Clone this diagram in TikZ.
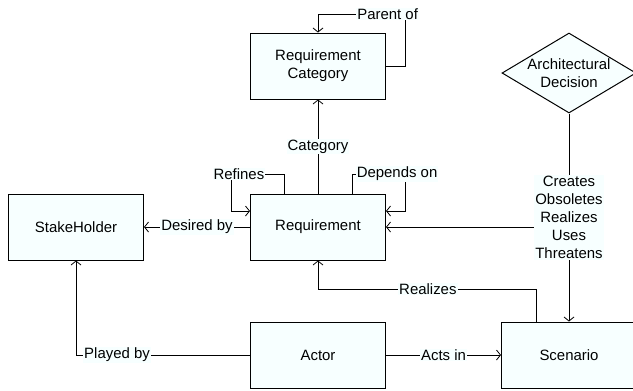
\documentclass[tikz,border=0pt]{standalone}
\usepackage{fontspec}
\setmainfont{Liberation Sans}
\usetikzlibrary{shapes.geometric,arrows.meta}
\definecolor{boxfill}{HTML}{F7FFFF}
\begin{document}
\begin{tikzpicture}[x=1bp,y=-1bp,
    every node/.style={font=\fontsize{15}{18}\selectfont},
    entity/.style={draw,fill=boxfill,line width=1bp,minimum width=135bp,minimum height=66bp,inner sep=0pt,align=center},
    decision/.style={draw,diamond,fill=boxfill,line width=1bp,aspect=1.675,minimum width=134bp,minimum height=80bp,inner sep=0pt},
    lbl/.style={fill=boxfill,inner sep=1bp,align=center},
    rel/.style={line width=0.8bp,-{Straight Barb[length=4bp,width=10bp]}}]
\useasboundingbox (0,0) rectangle (633,390);
			\node[entity] (cat) at (318, 66) {Requirement\\Category};
			\node[entity] (req) at (318, 227) {Requirement};
			\node[entity] (stake) at (76, 227) {StakeHolder};
			\node[entity] (actor) at (318, 355) {Actor};
			\node[entity] (scen) at (569, 355) {Scenario};
			\node[decision] (dec) at (569, 73) {};
			\node[align=center] (dectext) at (dec) {Architectural\\Decision};
			\coordinate (par) at (405, 14);
			\coordinate (rf) at (231, 174);
			\coordinate (dp) at (405, 174);
			\coordinate (rz) at (318, 289);
			% self relations
			\draw[rel] (cat.east) -| (par) -- node[lbl, pos=0.2] {Parent of} (par -| cat.north) -- (cat.north);
			\draw[rel] ([xshift=-34bp]req.north) |- node[lbl, pos=0.925] {Refines} (rf) |- ([yshift=16bp]req.west);
			\draw[rel] ([xshift=34bp]req.north) |- node[lbl, pos=0.925] {Depends on} (dp) |- ([yshift=16bp]req.east);
			% relations between entities
			\draw[rel] (req.north) -- node[lbl, midway] {Category} (cat.south);
			\draw[rel] (req.west) -- node[lbl, midway] {Desired by} (stake.east);
			\draw[rel] (actor.west) -| node[lbl, pos=0.382] {Played by} (stake.south);
			\draw[rel] (actor.east) -- node[lbl, midway] {Acts in} (scen.west);
			\draw[rel] ([xshift=-33bp]scen.north) |- node[lbl, pos=0.748] {Realizes} (rz) -- (req.south);
			\draw[rel] (dec.south) -- node[lbl, midway] (verbs) {Creates\\Obsoletes\\Realizes\\Uses\\Threatens} (scen.north);
			\draw[rel] (verbs.west |- req.east) -- (req.east);
		\end{tikzpicture}
\end{document}
